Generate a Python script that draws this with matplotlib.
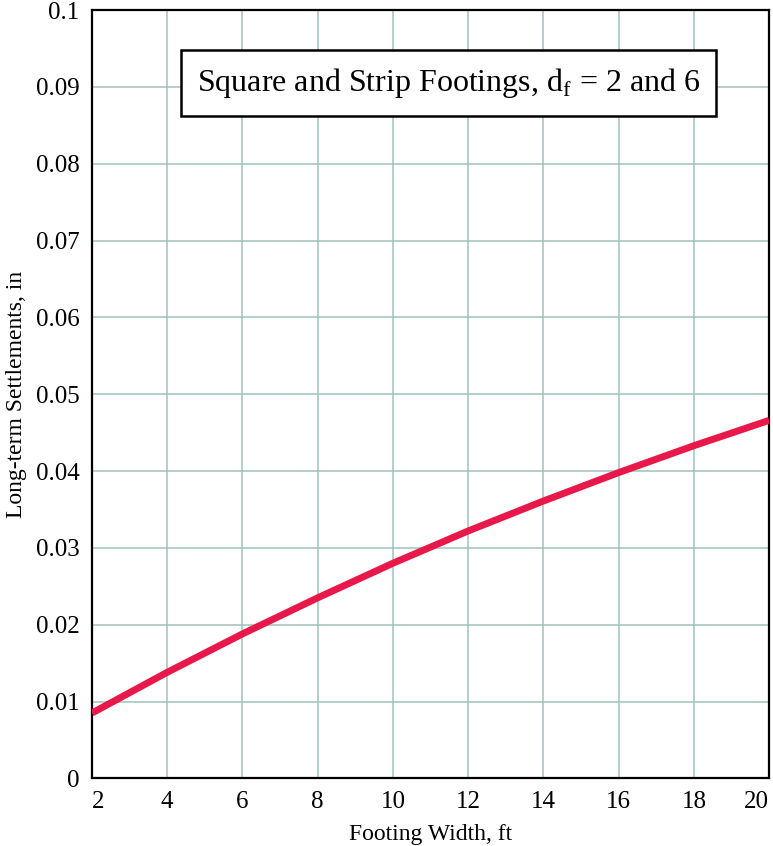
import numpy as np
import matplotlib
matplotlib.use("Agg")
import matplotlib.pyplot as plt

plt.rcParams["font.family"] = ["Liberation Serif", "DejaVu Serif"]

# ── data ────────────────────────────────────────────────────────────
width_ft = [2, 4, 6, 8, 10, 12, 14, 16, 18, 20]
settle_in = [0.0085, 0.0138, 0.0188, 0.0235, 0.0280, 0.0322, 0.0361, 0.0398, 0.0433, 0.0466]

x_ticks = [2, 4, 6, 8, 10, 12, 14, 16, 18, 20]
y_ticks = [0, 0.01, 0.02, 0.03, 0.04, 0.05, 0.06, 0.07, 0.08, 0.09, 0.1]
y_labels = ["0", "0.01", "0.02", "0.03", "0.04", "0.05", "0.06", "0.07", "0.08", "0.09", "0.1"]

fig = plt.figure(figsize=(7.73, 8.46), dpi=100)
ax = fig.add_axes([0.119, 0.080, 0.876, 0.908])

ax.plot(width_ft, settle_in, color="#E8194A", linewidth=5, solid_capstyle="butt", zorder=3)

ax.set_xlim(2, 20)
ax.set_ylim(0, 0.1)
ax.set_xticks(x_ticks)
ax.set_yticks(y_ticks)
ax.set_yticklabels(y_labels)
ax.tick_params(length=0, labelsize=18)
ax.tick_params(axis="y", pad=9)
ax.tick_params(axis="x", pad=9)
# end x labels kept inside the figure
ax.get_xticklabels()[-1].set_horizontalalignment("right")
ax.get_xticklabels()[0].set_horizontalalignment("left")
ax.grid(True, color="#9FC2BA", linewidth=1.1)
for s in ax.spines.values():
    s.set_color("black")
    s.set_linewidth(1.6)

ax.set_xlabel("Footing Width, ft", fontsize=17, labelpad=8)
ax.set_ylabel("Long-term Settlements, in", fontsize=17, labelpad=6)

ax.text(0.526, 0.905, r"Square and Strip Footings, d$_\mathregular{f}$ = 2 and 6",
        transform=ax.transAxes, ha="center", va="center", fontsize=23, zorder=5,
        bbox=dict(boxstyle="square,pad=0.5", facecolor="white", edgecolor="black", linewidth=1.8))

plt.savefig("out.png", dpi=100)
plt.close()
